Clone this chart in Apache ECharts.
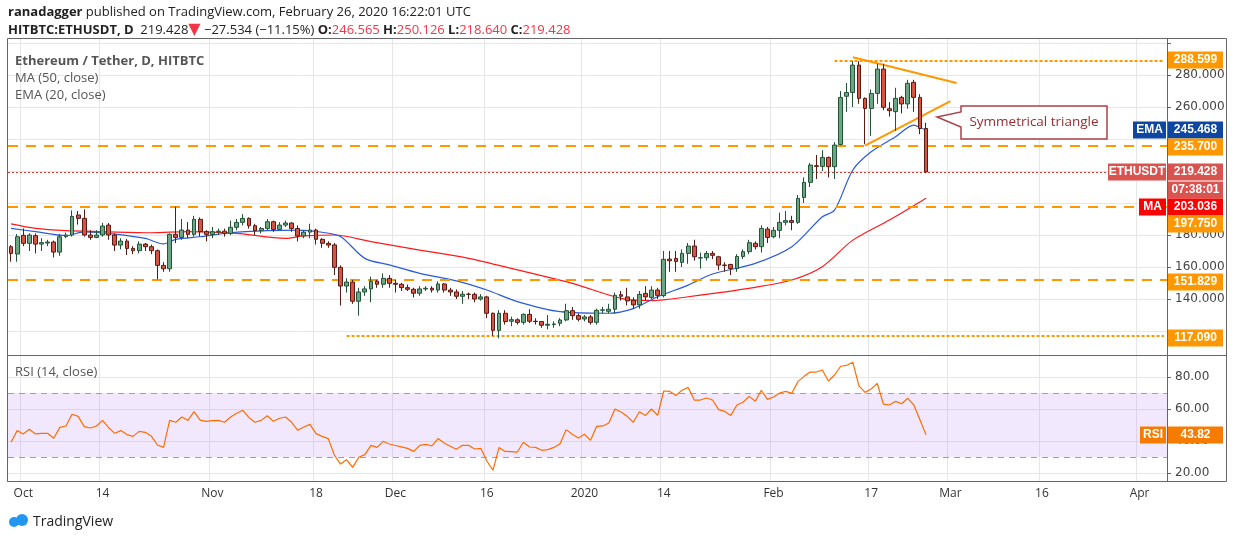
<!DOCTYPE html>
<html><head><meta charset="utf-8">
<script src="https://cdn.jsdelivr.net/npm/echarts@6/dist/echarts.min.js"></script>
<style>html,body{margin:0;padding:0;background:#fff}#c{width:1234px;height:541px}</style>
</head><body><div id="c"></div>
<script>
const startDate = '2019-09-29';
const totalDays = 190;
const dateLabels = {'2019-10-01':'Oct','2019-10-14':'14','2019-11-01':'Nov','2019-11-18':'18','2019-12-01':'Dec','2019-12-16':'16','2020-01-01':'2020','2020-01-14':'14','2020-02-01':'Feb','2020-02-17':'17','2020-03-01':'Mar','2020-03-16':'16','2020-04-01':'Apr'};
const priceTickLabels = [140,160,180,260,280];
const rsiTickLabels = [20,40,60,80];
const opens = [172.7,168.1,179.8,174.8,179.6,174.3,175,175.6,169.3,179,180,192.5,190.4,180,178.5,180,186.2,180,173.7,176.2,171.6,170.2,174.3,172.7,170.2,161,158.9,180.4,178.5,183.1,180.4,189.8,182.1,180.4,182,182.4,181,184.8,187.9,190.4,185.8,182.7,184.1,188.3,183.5,186.2,187.5,184.1,179.4,181.8,183.1,177.3,174.8,173.8,159.8,148.1,150.6,138.6,144.4,146.3,151.1,149.2,152.9,149.8,149.2,147.1,146.1,143.6,146.3,146.7,145.6,149.4,145.6,144.4,141.7,143,142.9,140,141.3,131.1,120.4,131.1,126.1,127,125.4,130.4,126.1,125.9,123.6,124,124.8,126.9,132.7,129.6,127.5,128.8,125.4,133,132.3,133.6,142.7,141.3,139.2,136.3,143.5,141,145.6,142.1,164.9,165.4,162.9,168.5,173.1,165.6,165.8,168.5,166.4,161.2,161.6,159.1,166.6,169.6,174.8,172.7,183.7,178.9,182.9,187.9,189,187.9,203.5,212.9,223.3,222.9,228.5,222.7,236.6,266.7,269.1,286.2,265.4,259.1,268.5,283.7,258.9,257.1,266,261.9,275.4,266,246.565];
const highs = [173.7,180.6,184.1,181,181,178,177,176.5,180.6,181.5,195.4,195,196,183,183,187.5,187.5,181,178,177.5,173,176,175,174,171,163,181,197.7,190,188,192,191,183,185,184,184,189,190,193,191,187,185,190,189,188,189,188,186,183,187,184,178,176,175,161,153,152,147,148,154,152,156,155,152,150,149,147,148,148,148,151,150,147,146,145,144,144,143,142,131.5,133,133,129,128,131,133.6,128,126,130,126,128,137,135,131,130,130,134,135,137,144,145,147,141,145,148,148,147,170,170,170,171,175,177,169,170,170,167,163,162,168,171,177,176,186,185,185,194,195,192,205,216,225,230,233,229,238,270,275,288.6,288.6,266,271,287,287,263,272,267,277,277,268,250.126];
const lows = [163.3,163.3,173,170,168.5,170,173,166,167,178,179,186.5,179,177,178,179,177,170,171,167.5,168,168.5,170,168,152.3,157,157,175,177,178,179,179,176,178,180,179,180,183,186,184,180,181,183,182,183,185,182,176,178,178,174,172,172,155,135.9,144,137,129.6,142,138,147,147,147,144,145,145,141,142,145,144,144,144,142,140,137,140,138,139,128,117,115.4,124,123,124,124,125,124,122,121,122,123,126,127,126,126,124,124,131,131,131,139,136,134,134,139,140,140,141,157,157,160,162,164,159,164,165,158,157,155,157,165,168,171,169,175,178,178,186,183,187,200,210,215,220,216,215,236,257,260,262,236.7,242,262,258,254,245,256,259,257,243,218.64];
const closes = [168.5,178.9,174.8,180,174.3,175.2,175.6,169.3,178.9,180,191.6,190.4,180,178.5,180,185.6,180,173.7,176.2,171.6,170.2,174.3,172.7,170.2,161,158.9,180.4,178.5,183.1,180.4,189.8,182.1,180.4,182,182.4,181,184.8,187.9,190.4,185.8,182.7,184.1,188.3,183.5,186.2,187.5,184.1,179.4,181.8,183.1,177.3,174.8,173.7,159.8,148.1,150.6,138.6,144.4,146.3,151.1,149.2,152.9,149.8,149.2,147.1,146.1,143.6,146.3,146.7,145.6,149.4,145.6,144.4,141.7,143,142.9,140,141.3,131.1,120.4,131.1,125.9,127.1,125.4,130.4,126.1,125.9,123.6,124.2,124.4,126.9,132.7,129.6,127.3,128.8,125.4,132.9,133.2,133.6,142.3,141.7,138.8,136.3,142.9,141.3,145.6,142.3,164.8,163.9,163.5,168.5,173.1,166.4,165.8,168.5,167.3,161.2,161,159.1,166.6,169.6,175.2,172.7,184.1,178.5,182.9,187.9,189,187.9,202.9,212.9,223.7,222.9,228.5,222.7,236.2,266,269.1,286.2,265.4,259.1,268.5,283.7,259.8,257.7,265.4,261.9,274.8,266,246.565,219.428];
const ema20Points = [[0,184.1],[4,182.1],[9,179.6],[12,182],[17,180.6],[22,177.9],[25,174.4],[27,177.3],[31,178.9],[36,181.4],[42,182.7],[47,183.1],[51,181.7],[54,179],[58,165.4],[62,161.3],[67,156],[73,151.3],[78,145.6],[83,138.4],[90,132.1],[98,131.1],[102,134],[106,141.4],[111,148.7],[115,155.6],[122,162.3],[128,172.7],[133,191.4],[135,195.5],[138,220.6],[141,232],[145,241.4],[148,248.7],[149,247.3],[150,245.468]];
const ma50Points = [[0,186.9],[4,184.1],[9,182.7],[15,182.1],[23,181.4],[29,182.1],[37,181],[45,177.9],[48,179.4],[53,180],[59,175.9],[67,170.6],[75,165.4],[83,158.2],[92,149.8],[100,140.4],[105,139],[111,141.4],[122,147.3],[128,151.9],[133,160.2],[138,176.8],[144,189.4],[150,203.036]];
const rsi = [39.2,46.5,44.4,47.3,44.4,44.8,44.8,41.7,48.5,49.4,56.7,55.4,49,48.1,49.4,52.9,48.3,44.8,46.5,44,42.9,46,45.4,43.1,37.5,36,52.9,51.7,55,52.9,58.3,53.1,52.3,52.7,52.9,51.7,55,57.3,59.2,54.6,51.7,52.9,55.8,52.3,54.2,55,51.7,46.7,48.75,50.4,44.6,42.9,41.5,31.25,25.6,28.3,23.5,29.8,31.5,37.3,36,39.8,38.1,37.2,36.3,35.4,33.5,37.3,37.9,36.9,41.5,38.75,36.7,34.8,37.3,37.3,35,35.4,27.5,21.7,36,33.5,33.3,33.1,39.2,36.25,36,34.2,34.6,36,38.3,47.1,44.2,41.9,44.2,40.4,49.2,49.4,51.25,60,58.1,55.4,51.7,58.3,56,60,56,71.25,71,68.5,71.7,73.5,65.6,65.6,66.9,65.6,59.6,58.5,56,62.5,64.2,67.9,64.8,71.7,66,67.5,70,71,69.8,77.1,80.4,83.1,83.1,84.4,77.5,81.25,86.7,87.3,89.2,74.4,70.4,72.5,76,63.1,62.5,64.8,63.3,66.7,62.5,53.3,43.82];
const levels = {top:288.599, r1:235.7, last:219.428, s1:197.75, s2:151.829, low:117.09};
const triUpper = [[138,291.1],[155,275]];
const triLower = [[140,235.8],[154,263.7]];

const dates=[];{const d=new Date(startDate+'T00:00:00Z');for(let i=0;i<totalDays;i++){dates.push(d.toISOString().slice(0,10));d.setUTCDate(d.getUTCDate()+1);}}
const candles = opens.map((o,i)=>[o,closes[i],lows[i],highs[i]]);
const isLab=(i,v)=>dateLabels[v]!==undefined;
const last=dates[dates.length-1];
const orange='#ff9800';
const chart=echarts.init(document.getElementById('c'));
const boxes=[];
function box(x,y,w,txt,col){boxes.push({type:'rect',shape:{x:x,y:y-8.5,width:w,height:17},style:{fill:col},z:20});
 boxes.push({type:'text',x:x+w/2,y:y,style:{text:txt,fill:'#fff',font:'bold 12px "Liberation Sans",Arial,sans-serif',align:'center',verticalAlign:'middle'},z:21});}
box(1168,60,55,'288.599',orange);
box(1133,130,33,'EMA','#0d47a1');box(1168,130,55,'245.468','#0d47a1');
box(1168,147,55,'235.700',orange);
box(1108,172,58,'ETHUSDT','#d9534f');box(1168,172,55,'219.428','#d9534f');
box(1168,190,55,'07:38:01','#d9534f');
box(1139,207,27,'MA','#ff0000');box(1168,207,55,'203.036','#ff0000');
box(1168,224,55,'197.750',orange);
box(1168,282,55,'151.829',orange);
box(1168,338,55,'117.090',orange);
box(1140,435,26,'RSI','#f57c00');box(1168,435,55,'43.82','#f57c00');

const txt=(x,y,t,f,c)=>({type:'text',x:x,y:y,style:{text:t,font:f,fill:c,verticalAlign:'middle'},z:20});
const graphics=[
 {type:'text',x:8,y:12,style:{rich:{b:{font:'bold 13px "Open Sans",sans-serif',fill:'#222'},n:{font:'13px "Open Sans",sans-serif',fill:'#222'}},text:'{b|ranadagger} {n|published on TradingView.com, February 26, 2020 16:22:01 UTC}',verticalAlign:'middle'},z:20},
 {type:'text',x:8,y:30,style:{rich:{b:{font:'bold 13px "Open Sans",sans-serif',fill:'#222'},n:{font:'13px "Open Sans",sans-serif',fill:'#222'},r:{font:'13px "Open Sans",sans-serif',fill:'#f23645'},t:{font:'16px "DejaVu Sans",sans-serif',fill:'#f23645'}},text:'{b|HITBTC:ETHUSDT, D}  {n|219.428}{t|▼}{n| −27.534 (−11.15%)} {b|O:}{r|246.565} {b|H:}{r|250.126} {b|L:}{r|218.640} {b|C:}{r|219.428}',verticalAlign:'middle'},z:20},
 txt(15,61,'Ethereum / Tether, D, HITBTC','bold 13px "Open Sans",sans-serif','#555'),
 txt(15,78,'MA (50, close)','13px "Open Sans",sans-serif','#555'),
 txt(15,95,'EMA (20, close)','13px "Open Sans",sans-serif','#555'),
 txt(15,372,'RSI (14, close)','13px "Open Sans",sans-serif','#555'),
 {type:'rect',shape:{x:7.5,y:38.5,width:1219,height:443},style:{fill:'none',stroke:'#666',lineWidth:1},z:15},
 {type:'line',shape:{x1:8,y1:355.5,x2:1227,y2:355.5},style:{stroke:'#666',lineWidth:1},z:15},
 {type:'line',shape:{x1:1167.5,y1:38,x2:1167.5,y2:481},style:{stroke:'#666',lineWidth:1},z:15},
 {type:'polygon',shape:{points:[[961,106],[1107,106],[1107,139],[961,139],[961,127],[937,117],[961,112]]},style:{fill:'#fff',stroke:'#a8434a',lineWidth:1.5},z:18},
 {type:'text',x:1034,y:122.5,style:{text:'Symmetrical triangle',font:'13.5px "Open Sans",sans-serif',fill:'#9c2b2f',align:'center',verticalAlign:'middle'},z:19},
 {type:'circle',shape:{cx:14,cy:522,r:5},style:{fill:'#2196f3'},z:20},
 {type:'circle',shape:{cx:22,cy:520,r:6},style:{fill:'#2196f3'},z:20},
 txt(33,522,'TradingView','14px "Open Sans",sans-serif','#222'),
 ...boxes];

const dash=(v,type,col,w)=>({yAxis:v,lineStyle:{type:type,color:col,width:w}});
chart.setOption({
 animation:false,
 grid:[{left:8,right:67,top:33,height:330},{left:8,right:67,top:345,height:160},{left:8,right:67,top:38,height:443}],
 xAxis:[
  {type:'category',data:dates,gridIndex:0,show:false,boundaryGap:true},
  {type:'category',data:dates,gridIndex:1,show:false,boundaryGap:true},
  {type:'category',data:dates,gridIndex:2,boundaryGap:true,axisLine:{lineStyle:{color:'#666'}},
   axisTick:{interval:isLab,alignWithLabel:true,lineStyle:{color:'#666'},length:4},
   axisLabel:{interval:isLab,formatter:v=>dateLabels[v]||'',color:'#333',fontSize:12,fontFamily:'"Open Sans",sans-serif',margin:7},
   splitLine:{show:true,interval:isLab,lineStyle:{color:'#e6e6e6'}}}
 ],
 yAxis:[
  {type:'value',gridIndex:0,position:'right',min:100,max:306.25,interval:20,axisLine:{show:false},
   axisTick:{show:true,length:4,lineStyle:{color:'#666'}},
   axisLabel:{formatter:v=>priceTickLabels.includes(v)?v.toFixed(3):'',color:'#444',fontSize:12,fontFamily:'"DejaVu Sans",sans-serif',showMinLabel:false,showMaxLabel:false,margin:8},
   splitLine:{lineStyle:{color:'#e6e6e6'},showMinLine:false,showMaxLine:false}},
  {type:'value',gridIndex:1,position:'right',min:0,max:100,interval:20,axisLine:{show:false},
   axisTick:{show:true,length:4,lineStyle:{color:'#666'}},
   axisLabel:{formatter:v=>rsiTickLabels.includes(v)?v.toFixed(2):'',color:'#444',fontSize:12,fontFamily:'"DejaVu Sans",sans-serif',showMinLabel:false,showMaxLabel:false,margin:8},
   splitLine:{lineStyle:{color:'#e6e6e6'},showMinLine:false,showMaxLine:false}},
  {type:'value',gridIndex:2,show:false}
 ],
 series:[
  {type:'candlestick',xAxisIndex:0,yAxisIndex:0,data:candles,barWidth:'70%',z:5,
   itemStyle:{color:'#6ba583',color0:'#d75442',borderColor:'#225437',borderColor0:'#5b1a13',borderWidth:1},
   markLine:{silent:true,symbol:'none',label:{show:false},data:[
     dash(levels.r1,[10,8],orange,2),dash(levels.s1,[10,8],orange,2),dash(levels.s2,[10,8],orange,2),
     dash(levels.last,[2,2],'#e53935',1),
     [{coord:[dates[135],levels.top],lineStyle:{type:[3,2],color:orange,width:2}},{coord:[last,levels.top]}],
     [{coord:[dates[55],levels.low],lineStyle:{type:[3,2],color:orange,width:2}},{coord:[last,levels.low]}],
     [{coord:[dates[triUpper[0][0]],triUpper[0][1]],lineStyle:{type:'solid',color:orange,width:2}},{coord:[dates[triUpper[1][0]],triUpper[1][1]]}],
     [{coord:[dates[triLower[0][0]],triLower[0][1]],lineStyle:{type:'solid',color:orange,width:2}},{coord:[dates[triLower[1][0]],triLower[1][1]]}]
   ]}},
  {type:'line',xAxisIndex:0,yAxisIndex:0,data:ma50Points,showSymbol:false,smooth:0.3,lineStyle:{color:'#ff1a1a',width:1.2},z:4},
  {type:'line',xAxisIndex:0,yAxisIndex:0,data:ema20Points,showSymbol:false,smooth:0.3,lineStyle:{color:'#2a5bd7',width:1.2},z:4},
  {type:'line',xAxisIndex:1,yAxisIndex:1,data:rsi,showSymbol:false,lineStyle:{color:'#ff6d00',width:1.2},z:5,
   markArea:{silent:true,itemStyle:{color:'rgba(176,112,245,0.16)'},data:[[{yAxis:30},{yAxis:70}]]},
   markLine:{silent:true,symbol:'none',label:{show:false},lineStyle:{type:[6,5],color:'#a59cae',width:1},data:[{yAxis:70},{yAxis:30}]}}
 ],
 graphic:graphics
});
</script></body></html>
